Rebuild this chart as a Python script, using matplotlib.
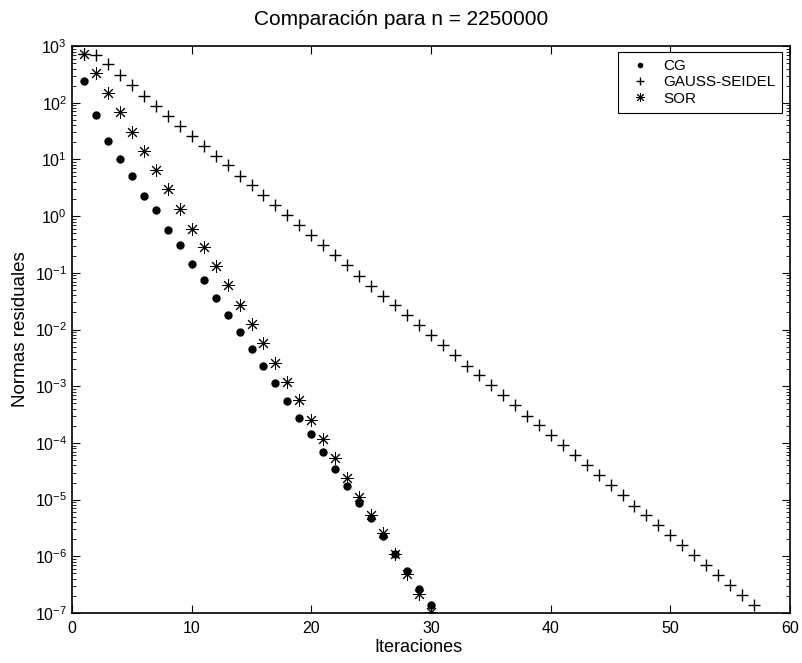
import numpy as np
import matplotlib
matplotlib.use('Agg')
import matplotlib.pyplot as plt
from matplotlib.ticker import FixedLocator, NullFormatter

plt.rcParams['font.family'] = ['Liberation Sans', 'DejaVu Sans']
plt.rcParams['mathtext.fontset'] = 'custom'
plt.rcParams['mathtext.rm'] = 'Liberation Sans'

# residual norms
it_cg = list(range(1, 31))
res_cg = [240, 60, 21, 10, 5.1, 2.3, 1.26, 0.56, 0.31, 0.143,
          0.076, 0.0355, 0.0182, 0.009, 0.0046, 0.0023, 0.00112, 5.5e-4, 2.8e-4, 1.42e-4,
          7.0e-5, 3.5e-5, 1.74e-5, 8.8e-6, 4.7e-6, 2.3e-6, 1.08e-6, 5.4e-7, 2.7e-7, 1.38e-7]

it_gs = list(range(1, 58))
res_gs = [710, 700, 475, 307, 205, 134, 87, 58, 39, 26,
          17.5, 11.6, 7.9, 5.2, 3.5, 2.36, 1.57, 1.05, 0.69, 0.46,
          0.305, 0.204, 0.135, 0.089, 0.059, 0.039, 0.0267, 0.0178, 0.0119, 0.0079,
          0.0053, 0.0035, 0.0023, 0.00158, 0.00104, 6.9e-4, 4.6e-4, 3.0e-4, 2.04e-4, 1.36e-4,
          9.1e-5, 6.0e-5, 4.0e-5, 2.7e-5, 1.79e-5, 1.19e-5, 7.8e-6, 5.3e-6, 3.5e-6, 2.34e-6,
          1.56e-6, 1.04e-6, 6.9e-7, 4.6e-7, 3.1e-7, 2.05e-7, 1.38e-7]

it_sor = list(range(1, 31))
res_sor = [720, 330, 150, 68, 31, 14, 6.4, 2.96, 1.35, 0.6,
           0.29, 0.132, 0.06, 0.027, 0.0125, 0.0058, 0.0026, 0.0012, 5.6e-4, 2.5e-4,
           1.16e-4, 5.4e-5, 2.43e-5, 1.1e-5, 5.3e-6, 2.55e-6, 1.08e-6, 4.9e-7, 2.2e-7, 1.05e-7]

xticks = [0, 10, 20, 30, 40, 50, 60]
decades = list(range(-7, 4))

fig = plt.figure(figsize=(8.02, 6.63), dpi=100)
ax = fig.add_axes([0.0898, 0.0754, 0.8953, 0.8552])

ax.semilogy(it_cg, res_cg, linestyle='none', marker='o', markersize=5,
            color='black', label='CG', clip_on=False)
ax.semilogy(it_gs, res_gs, linestyle='none', marker='+', markersize=8,
            markeredgewidth=1.0, color='black', label='GAUSS-SEIDEL')
ax.semilogy(it_sor, res_sor, linestyle='none', marker=(8, 2, 0), markersize=9,
            markeredgewidth=0.7, color='black', label='SOR')

ax.set_xlim(0, 60)
ax.set_ylim(1e-7, 1e3)
ax.set_xticks(xticks)
ax.set_yticks([10.0 ** k for k in decades])
minors = [m * 10.0 ** k for k in decades[:-1] for m in range(2, 10)]
ax.yaxis.set_minor_locator(FixedLocator(minors))
ax.yaxis.set_minor_formatter(NullFormatter())

ax.tick_params(which='both', direction='in', top=True, right=True, labelsize=11.5)
ax.tick_params(axis='x', pad=6)
ax.tick_params(which='major', length=6, width=0.8)
ax.tick_params(which='minor', length=3, width=0.6)
for s in ax.spines.values():
    s.set_linewidth(1.2)

ax.set_title('Comparación para n = 2250000', fontsize=15, pad=15, x=0.459)
ax.set_xlabel('Iteraciones', fontsize=13)
ax.xaxis.set_label_coords(0.4826, -0.045)
ax.set_ylabel('Normas residuales', fontsize=13.5, labelpad=4)

leg = ax.legend(loc='upper right', bbox_to_anchor=(0.989, 0.989), borderaxespad=0,
                fontsize=11, markerscale=0.7, handlelength=2.0, handletextpad=0.5,
                borderpad=0.45, labelspacing=0.15, fancybox=False,
                edgecolor='black', framealpha=1)
leg.get_frame().set_linewidth(0.8)
leg.legend_handles[0].set_markersize(3)

fig.savefig('out.png', dpi=100)
